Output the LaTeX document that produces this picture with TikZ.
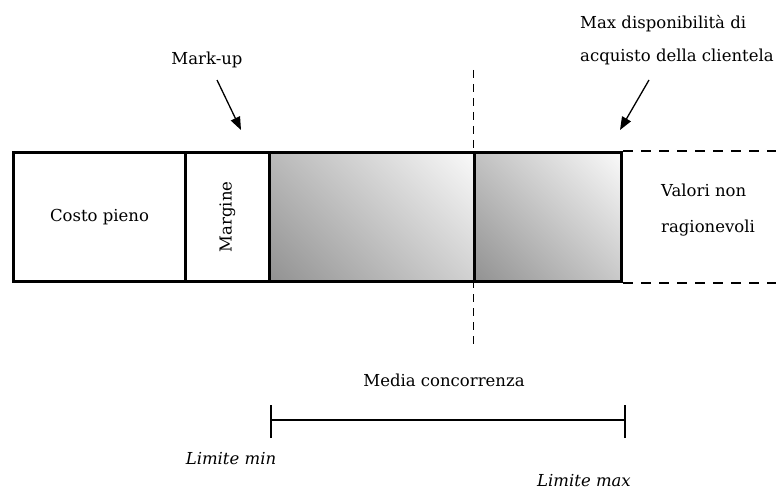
\documentclass[tikz,border=0pt]{standalone}
\usepackage{fontspec}
\setmainfont{DejaVu Serif}
\usetikzlibrary{arrows.meta,positioning}
% diagonal grey-to-white fill for the price bands
\pgfdeclareverticalshading{band}{100bp}{color(0bp)=(black!42); color(16bp)=(black!42); color(84bp)=(black!3); color(100bp)=(black!3)}
\begin{document}
\begin{tikzpicture}[x=1pt,y=-1pt,
  lbl/.style={font=\fontsize{16.5}{20}\selectfont, inner sep=0pt, align=center},
  seg/.style={draw=black, line width=3pt, inner sep=0pt, anchor=north west},
  shaded/.style={seg, shading=band, shading angle=-45},
  guide/.style={line width=1.3pt, dash pattern=on 10pt off 8pt},
  pointer/.style={line width=1.3pt, -{Triangle[length=13pt,width=10pt]}}]
\useasboundingbox (0,0) rectangle (776,492);
% the bar
\node[seg, minimum width=172pt, minimum height=129pt] (costo) at (12,151) {};
\node[seg, minimum width=84pt, minimum height=129pt] (marg) at (184,151) {};
\node[shaded, minimum width=205pt, minimum height=129pt] (area1) at (268,151) {};
\node[shaded, minimum width=147pt, minimum height=129pt] (area2) at (473,151) {};
\node[lbl] at (costo.center) {Costo pieno};
\node[lbl, rotate=90] at (marg.center) {Margine};
% open region beyond the bar
\draw[guide] (area2.north east) -- ++(156,0);
\draw[guide] (area2.south east) -- ++(156,0);
\node[lbl, font=\fontsize{16.5}{36}\selectfont, align=left, anchor=west] (valori) at (661,210) {Valori non\\ragionevoli};
% average competition marker
\coordinate (vtop) at (473,70);
\coordinate (vbot) at (473,345);
\draw[line width=1pt, dash pattern=on 8pt off 6pt] (vtop) -- (vbot);
% labels with pointers
\node[lbl] (markup) at (207,60) {Mark-up};
\coordinate (mtip) at (241,130);
\draw[pointer] (217,80) -- (mtip);
\node[lbl, font=\fontsize{16.5}{33}\selectfont, align=left, anchor=west] (maxd) at (580,40) {Max disponibilità di\\acquisto della clientela};
\coordinate (xtip) at (620,130);
\draw[pointer] (649,80) -- (xtip);
% range of competitors' prices
\node[lbl] (media) at (444,380) {Media concorrenza};
\coordinate (rmin) at (271,420);
\coordinate (rmax) at (625,420);
\draw[line width=1.3pt] (rmin) -- (rmax);
\draw[line width=1.3pt] ([yshift=-18pt]rmin) -- ([yshift=15pt]rmin);
\draw[line width=1.3pt] ([yshift=-18pt]rmax) -- ([yshift=15pt]rmax);
\node[lbl, font=\fontsize{16.5}{20}\selectfont\itshape] (lmin) at (231,459) {Limite min};
\node[lbl, font=\fontsize{16.5}{20}\selectfont\itshape] (lmax) at (584,481) {Limite max};
\end{tikzpicture}
\end{document}
